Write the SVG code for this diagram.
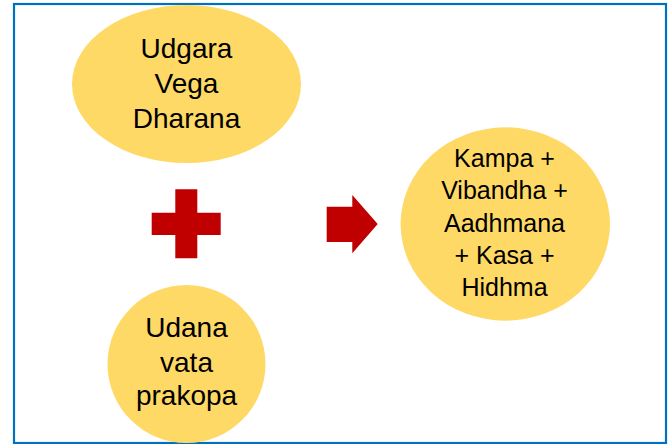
<svg xmlns="http://www.w3.org/2000/svg" width="671" height="444" viewBox="0 0 671 444">
  <style>
    .bubble { fill: #FFD966; stroke: none; }
    .lbl { font-family: "Liberation Sans", Arial, sans-serif; fill: #000000; text-anchor: middle; }
    .big { font-size: 28px; }
    .small { font-size: 25px; }
    .red { fill: #C00000; }
  </style>
  <rect x="0" y="0" width="671" height="444" fill="#FFFFFF"/>
  <rect id="frame" x="14" y="4" width="652" height="439" fill="none" stroke="#0070C0" stroke-width="2.2"/>
  <g id="node-udgara">
    <ellipse class="bubble" cx="186.5" cy="84" rx="114.5" ry="79"/>
    <text class="lbl big" x="186.5" y="58">Udgara</text>
    <text class="lbl big" x="186.5" y="93">Vega</text>
    <text class="lbl big" x="186.5" y="128">Dharana</text>
  </g>
  <g id="node-plus">
    <path class="red" d="M175.3,189.3 H197.3 V212.7 H220.7 V235 H197.3 V258.3 H175.3 V235 H151.7 V212.7 H175.3 Z"/>
  </g>
  <g id="node-udana">
    <ellipse class="bubble" cx="186.5" cy="364" rx="79" ry="79"/>
    <text class="lbl big" x="186.5" y="337">Udana</text>
    <text class="lbl big" x="186.5" y="372">vata</text>
    <text class="lbl big" x="186.5" y="405">prakopa</text>
  </g>
  <g id="connectors">
    <path class="red" d="M326.7,206.7 H352.3 V195 L377.7,224 L352.3,253.3 V242 H326.7 Z"/>
  </g>
  <g id="node-result">
    <ellipse class="bubble" cx="505.3" cy="224" rx="104.7" ry="96.7"/>
    <text class="lbl small" x="504.5" y="167">Kampa +</text>
    <text class="lbl small" x="504.5" y="199">Vibandha +</text>
    <text class="lbl small" x="504.5" y="231.5">Aadhmana</text>
    <text class="lbl small" x="504.5" y="263.5">+ Kasa +</text>
    <text class="lbl small" x="504.5" y="296">Hidhma</text>
  </g>
</svg>
